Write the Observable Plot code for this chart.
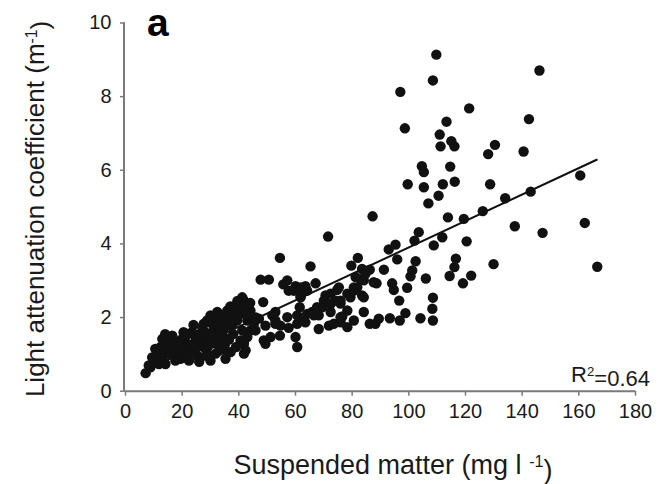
<!DOCTYPE html>
<html><head><meta charset="utf-8">
<script src="https://cdn.jsdelivr.net/npm/d3@7"></script>
<script src="https://cdn.jsdelivr.net/npm/@observablehq/plot@0.6"></script>
<style>
body{margin:0;background:#fff;}
#chart svg{font-family:Arial,"Liberation Sans",sans-serif;}
</style></head><body><div id="chart"></div>
<script>
const suspendedMatter = [109.7,108.5,97.0,121.3,98.6,113.3,110.9,115.0,116.1,111.2,
130.4,128.0,104.6,105.3,114.6,99.6,105.3,112.0,116.2,128.7,
110.5,106.9,160.5,146.1,142.4,140.5,134.0,143.0,137.4,147.2,
162.1,129.9,166.5,119.4,126.1,113.8,120.4,116.6,116.1,114.4,
122.0,119.1,87.2,103.5,111.8,102.0,95.3,92.9,108.8,95.9,
102.4,82.0,79.7,86.2,91.2,101.2,100.6,106.0,83.0,88.6,
94.1,94.7,99.4,80.6,83.5,78.3,96.6,108.5,108.3,108.5,
104.1,98.8,96.8,93.3,89.4,86.2,88.2,84.1,78.3,76.5,
78.3,75.9,54.5,65.3,47.7,50.6,55.7,57.6,60.0,63.5,
67.1,61.8,61.5,70.6,74.7,83.5,75.9,72.4,69.4,65.9,
68.2,72.4,75.9,71.8,68.2,63.5,60.6,57.6,54.7,60.0,
60.6,54.5,51.2,48.8,49.4,47.1,48.6,51.8,52.9,44.1,
41.8,41.2,43.0,44.1,41.8,42.4,71.5,41.2,30.0,32.4,
38.2,39.4,49.4,41.8,37.1,35.3,30.0,26.5,22.4,19.4,
14.1,8.8,7.1,9.4,12.4,13.0,16.5,20.6,24.7,27.1,
28.8,30.6,32.4,34.7,34.7,32.4,27.6,24.1,19.4,15.9,
17.6,14.7,21.2,25.3,28.8,31.8,24.1,21.8,26.5,28.8,
30.6,37.6,35.9,33.5,40.6,37.6,35.6,43.0,41.8,41.8,
39.4,43.0,45.3,45.9,52.9,52.9,57.1,60.6,62.9,64.1,
66.5,73.5,75.9,80.6,57.1,59.4,61.8,64.1,61.8,67.6,
70.0,72.4,75.3,74.1,79.4,81.2,81.8,84.1,87.6,80.6,
84.1,84.7,8.2,11.2,14.7,17.1,20.0,21.8,27.6,30.0,
30.6,33.5,35.9,38.8,33.5,37.1,41.2,40.6,13.5,11.8,
17.6,18.5,20.5,23.0,22.5,25.0,26.0,23.5,19.0,17.0,
15.0,12.0,10.5,14.0,22.0,28.0,29.0,31.0,33.0,35.0,
36.5,38.0,39.0,33.0,26.0,29.0,36.0,38.5,44.0,46.0,
34.5,31.5,24.0,20.5,16.0,9.8,37.0,39.5];
const attenuation = [9.14,8.44,8.13,7.68,7.14,7.32,6.97,6.79,6.65,6.65,
6.69,6.44,6.11,5.95,6.10,5.62,5.54,5.62,5.69,5.62,
5.31,5.10,5.86,8.71,7.39,6.51,5.24,5.42,4.48,4.30,
4.57,3.45,3.38,4.68,4.89,4.72,4.07,3.60,3.37,3.13,
3.14,2.93,4.75,4.32,4.18,4.09,3.98,3.85,3.96,3.58,
3.53,3.62,3.41,3.30,3.30,3.28,3.12,3.06,3.03,2.93,
2.93,2.75,2.81,2.82,2.60,2.65,2.46,2.54,2.24,1.92,
1.98,2.12,1.92,1.98,1.97,1.83,1.83,2.15,2.19,2.03,
1.74,2.38,3.62,3.39,3.03,3.03,2.90,2.73,2.85,2.85,
2.93,2.57,2.28,2.60,2.75,3.32,2.46,2.37,2.28,2.15,
2.06,2.15,1.87,1.78,1.69,1.87,1.83,1.72,1.78,1.47,
1.20,1.51,1.47,1.38,1.78,1.97,2.42,2.06,1.83,2.19,
2.46,2.19,1.92,1.65,1.38,1.11,4.20,2.55,2.06,2.15,
2.19,1.92,1.29,1.02,1.06,0.88,0.83,0.92,0.83,0.88,
0.74,0.65,0.49,0.92,1.20,1.42,1.51,1.38,1.47,1.74,
1.92,2.01,1.69,1.69,1.47,1.29,1.20,1.11,1.11,1.15,
1.29,1.02,0.97,0.97,1.02,1.02,1.29,1.20,1.38,1.47,
1.60,1.78,1.83,1.87,2.10,2.06,1.97,1.47,1.29,2.28,
2.28,2.10,1.83,1.65,1.92,2.15,2.01,2.06,1.92,2.10,
2.06,1.83,2.01,1.92,3.01,2.73,2.82,2.73,2.55,2.28,
2.46,2.65,2.82,2.46,2.55,3.10,2.82,3.01,2.96,2.73,
2.55,3.19,0.70,1.02,1.20,1.20,1.42,1.29,1.83,1.56,
1.83,2.01,2.19,2.33,1.65,1.83,1.65,1.38,0.79,0.74,
0.83,1.00,1.05,1.05,1.25,1.20,1.55,1.60,1.30,1.40,
1.35,0.95,1.15,1.55,1.55,1.60,1.20,1.30,1.10,1.25,
1.40,1.55,1.20,1.45,0.80,0.95,1.05,2.00,2.40,2.00,
2.05,1.85,1.80,1.60,1.00,0.80,2.30,2.45];

// Regression line
const fitIntercept = 0.315;
const fitSlope = 0.0359;
const fitXRange = [7.1, 166.3];

const xTicks = [0,20,40,60,80,100,120,140,160,180];
const yTicks = [0,2,4,6,8,10];
const xDomain = [0,180];
const yDomain = [0,10];

const panelLabel = "a";
const r2Text = ["R", "2", "=0.64"];
const xTitle = ["Suspended matter (mg l ", "-1", ")"];
const yTitle = ["Light attenuation coefficient (m", "-1", ")"];

const points = suspendedMatter.map((x, i) => ({x, y: attenuation[i]}));
const fitLine = fitXRange.map(x => ({x, y: fitIntercept + fitSlope * x}));

const W = 664, H = 484;
const mL = 125, mR = 29, mT = 22.5, mB = 93.3;
const axisColor = "#7a7a7a";
const font = "Arial, 'Liberation Sans', sans-serif";

const chart = Plot.plot({
  width: W, height: H,
  marginLeft: mL, marginRight: mR, marginTop: mT, marginBottom: mB,
  style: {background: "#fff", fontFamily: font, color: "#1a1a1a"},
  x: {domain: xDomain, ticks: xTicks},
  y: {domain: yDomain, ticks: yTicks},
  marks: [
    Plot.axisX({ticks: xTicks, tickSize: 5, tickPadding: 8, stroke: axisColor, strokeWidth: 1.5, fill: "#1a1a1a", fontSize: 20, label: null}),
    Plot.axisY({ticks: yTicks, tickSize: 5, tickPadding: 9, stroke: axisColor, strokeWidth: 1.5, fill: "#1a1a1a", fontSize: 20, label: null}),
    Plot.ruleY([0], {stroke: axisColor, strokeWidth: 2}),
    Plot.ruleX([0], {stroke: axisColor, strokeWidth: 2, dx: -1.5, y1: 0, y2: 10}),
    Plot.dot(points, {x: "x", y: "y", r: 5.2, fill: "#111", stroke: "none"}),
    Plot.line(fitLine, {x: "x", y: "y", stroke: "#111", strokeWidth: 2})
  ]
});

document.getElementById("chart").appendChild(chart);

const svg = d3.select(chart);
function addText(parts, attrs, supScale) {
  const t = svg.append("text").attr("font-family", font).attr("fill", "#1a1a1a");
  Object.entries(attrs).forEach(([k, v]) => t.attr(k, v));
  parts.forEach((p, i) => {
    const s = t.append("tspan").text(p);
    if (i === 1) s.attr("font-size", supScale).attr("dy", "-0.45em");
    if (i === 2) s.attr("dy", "0.45em").attr("font-size", "1em");
  });
  return t;
}
// panel label
svg.append("text").text(panelLabel)
  .attr("x", 147).attr("y", 35.5).attr("text-anchor", "start")
  .attr("font-family", font).attr("font-weight", "bold").attr("font-size", 39).attr("fill", "#000");
// R2
addText(r2Text, {"x": 650, "y": 382, "text-anchor": "end", "font-size": 22}, "0.6em");
// x title
addText(xTitle, {"x": 393, "y": 474, "text-anchor": "middle", "font-size": 27}, "0.6em");
// y title
addText(yTitle, {"transform": "translate(44,209) rotate(-90)", "text-anchor": "middle", "font-size": 26}, "0.6em");
</script></body></html>
